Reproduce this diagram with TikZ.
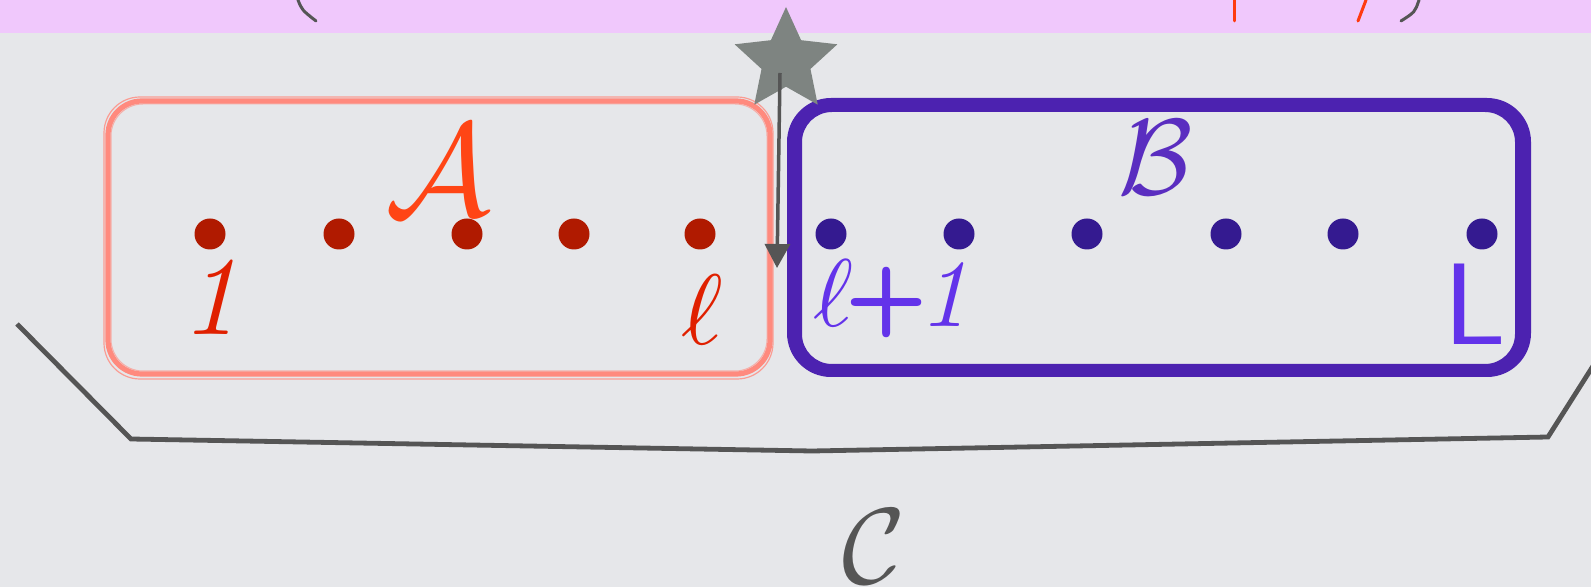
\documentclass[tikz,border=0pt]{standalone}
\usetikzlibrary{shapes.geometric,arrows.meta}
\definecolor{bgcol}{HTML}{E6E7EA}
\definecolor{pinkband}{HTML}{F0C8FC}
\definecolor{darkgray}{HTML}{555555}
\definecolor{orangeline}{HTML}{FF3A10}
\definecolor{salmon}{HTML}{FF8A7E}
\definecolor{adotcol}{HTML}{B01A00}
\definecolor{alabel}{HTML}{E02000}
\definecolor{Acol}{HTML}{FF4515}
\definecolor{bbox}{HTML}{4C22B0}
\definecolor{bdotcol}{HTML}{341A90}
\definecolor{Bcol}{HTML}{5A2DC0}
\definecolor{blabel}{HTML}{6333EA}
\definecolor{stargray}{HTML}{7E8481}
\tikzset{
  adot/.style={circle, fill=adotcol, inner sep=0pt, minimum size=15.5pt},
  bdot/.style={circle, fill=bdotcol, inner sep=0pt, minimum size=15.5pt},
  lbl/.style={inner sep=0pt, anchor=center},
  thin line/.style={line width=1.5pt, line cap=round},
}
\begin{document}
\begin{tikzpicture}[x=0.5pt,y=-0.5pt]
\useasboundingbox (0,0) rectangle (1591,587);
\clip (0,0) rectangle (1591,587);
\fill[bgcol] (0,0) rectangle (1591,587);
\fill[pinkband] (0,0) rectangle (1591,33);
% cut-off glyphs at the top
\draw[darkgray, thin line] (298,0) .. controls (302,10) .. (316,21);
\draw[orangeline, thin line] (1234,0) -- (1234,21);
\draw[orangeline, thin line] (1366,0) -- (1358,21);
\draw[darkgray, thin line] (1419,0) .. controls (1415,12) .. (1401,21);
% box A (sketchy)
\draw[salmon, line width=2.6pt, rounded corners=17pt] (108,101) rectangle (770,374);
\draw[salmon, line width=0.6pt, opacity=0.8, rounded corners=18pt] (104,97) rectangle (773,379);
\draw[salmon, line width=0.5pt, opacity=0.6, rounded corners=16pt] (111,104) rectangle (767,371);
% box B
\path[fill=bbox, even odd rule] [rounded corners=22pt] (787,98) rectangle (1531,377)
  [rounded corners=15pt] (802,112) rectangle (1515,364);
% dots
\node[adot] (a1) at (210,234) {};
\node[adot] (a2) at (339,234) {};
\node[adot] (a3) at (467,234) {};
\node[adot] (a4) at (574,234) {};
\node[adot] (a5) at (700,234) {};
\node[bdot] (b1) at (831,234) {};
\node[bdot] (b2) at (959,234) {};
\node[bdot] (b3) at (1087,234) {};
\node[bdot] (b4) at (1226,234) {};
\node[bdot] (b5) at (1343,234) {};
\node[bdot] (b6) at (1482,234) {};
% labels
\node[lbl, text=Acol, scale=6.6] (labA) at (438,170) {$\mathcal{A}$};
\node[lbl, text=Bcol, scale=5.4] (labB) at (1156,158) {$\mathcal{B}$};
\node[lbl, text=alabel, scale=5.6] (one) at (210,297) {\itshape 1};
\node[lbl, text=alabel, scale=5.0] (ell) at (702,310) {$\ell$};
\node[lbl, text=blabel, scale=4.8] (ellp) at (891,299) {$\ell$\kern-0.08em\sffamily\bfseries+\kern-0.08em\rmfamily\mdseries\itshape 1};
\node[lbl, text=blabel, scale=5.8] (L) at (1475,304) {\sffamily L};
\node[lbl, text=darkgray, scale=5.4] (labC) at (874,547) {$\mathcal{C}$};
% brace
\draw[darkgray, line width=2.4pt] (17,324) -- (131,439) -- (812,451) -- (1548,437) -- (1600,355);
% star and arrow
\node[star, star points=5, star point ratio=2.1, minimum size=54pt, fill=stargray, inner sep=0pt] (star) at (786,61) {};
\coordinate (arrtop) at (780,73);
\coordinate (arrtip) at (777,268);
\draw[darkgray, line width=1.75pt, -{Triangle[length=12pt,width=12.5pt]}] (arrtop) -- (arrtip);
\end{tikzpicture}
\end{document}
